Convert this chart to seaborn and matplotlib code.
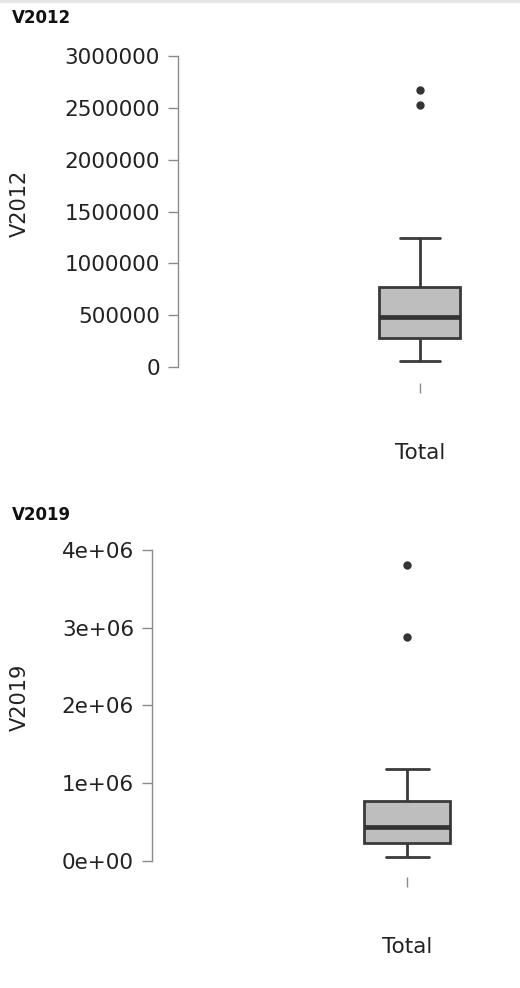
import numpy as np
import pandas as pd
import matplotlib
matplotlib.use("Agg")
import matplotlib.pyplot as plt
import seaborn as sns

# Data
v2012 = [58000, 150000, 230000, 280000, 340000, 420000, 482000,
         560000, 650000, 772000, 1244000, 2527000, 2672000]
v2019 = [51000, 120000, 180000, 232000, 300000, 380000, 437000,
         520000, 640000, 772000, 1183000, 2880000, 3807000]
group = "Total"

ticks_2012 = [0, 500000, 1000000, 1500000, 2000000, 2500000, 3000000]
labels_2012 = ["0", "500000", "1000000", "1500000", "2000000", "2500000", "3000000"]
ticks_2019 = [0, 1000000, 2000000, 3000000, 4000000]
labels_2019 = ["0e+00", "1e+06", "2e+06", "3e+06", "4e+06"]

sns.set_style("white")
plt.rcParams['font.family'] = ['DejaVu Sans']

W, H = 520, 988
fig = plt.figure(figsize=(W / 100, H / 100), dpi=100)

gray_axis = "#8a8a8a"
edge = "#3a3a3a"


def panel(values, name, ticks, labels, left_px, top_px, bottom_px, ylim, xlim, title_y):
    ax = fig.add_axes([left_px / W, 1 - bottom_px / H,
                       (W - left_px) / W, (bottom_px - top_px) / H])
    df = pd.DataFrame({"group": [group] * len(values), name: values})
    sns.boxplot(data=df, x="group", y=name, ax=ax, width=0.8,
                color="#BEBEBE", saturation=1, linecolor=edge, linewidth=2,
                medianprops=dict(color="#333333", linewidth=3.4),
                flierprops=dict(marker="o", markersize=5, markerfacecolor="#333333",
                                markeredgecolor="#333333"))
    ax.set_ylim(*ylim)
    ax.set_xlim(*xlim)
    ax.set_yticks(ticks)
    ax.set_yticklabels(labels)
    for s in ["top", "right", "bottom"]:
        ax.spines[s].set_visible(False)
    ax.spines["left"].set_bounds(ticks[0], ticks[-1])
    ax.spines["left"].set_color(gray_axis)
    ax.spines["left"].set_linewidth(1)
    ax.tick_params(axis="y", left=True, length=7, width=1, color=gray_axis, pad=6,
                   labelsize=15.5, labelcolor="#222222")
    ax.tick_params(axis="x", bottom=True, length=7, width=1, color=gray_axis, pad=36,
                   labelsize=15.5, labelcolor="#222222")
    ax.set_xlabel("")
    ax.set_ylabel(name, fontsize=15, color="#222222")
    ax.yaxis.set_label_coords(30 / W, 1 - (top_px + bottom_px - 22) / 2 / H,
                              transform=fig.transFigure)
    fig.text(12 / W, 1 - title_y / H, name, fontsize=12, fontweight="bold",
             va="center", ha="left", color="#111111")
    return ax


panel(v2012, "V2012", ticks_2012, labels_2012, 178, 45, 383,
      (-154300, 3106100), (-2.390, 0.988), 18)
panel(v2019, "V2019", ticks_2019, labels_2019, 152, 540, 877,
      (-205800, 4128600), (-2.372, 1.051), 515)

# faint shadow line along the top edge
fig.add_artist(plt.Line2D([0, 1], [1 - 1.5 / H, 1 - 1.5 / H], color="#e6e6e6",
                          linewidth=3, transform=fig.transFigure))

fig.savefig("out.png", dpi=100)
